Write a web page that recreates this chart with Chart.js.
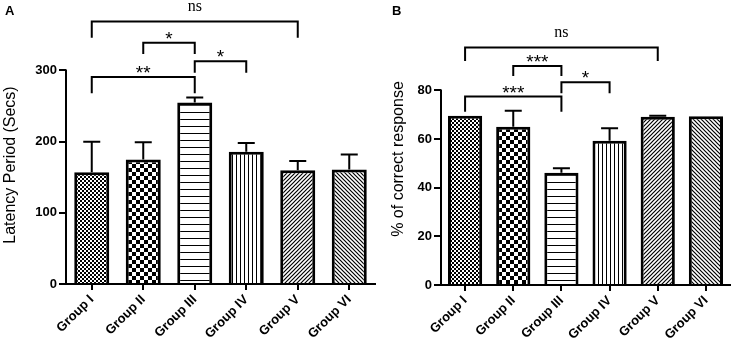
<!DOCTYPE html>
<html>
<head>
<meta charset="utf-8">
<script src="https://cdn.jsdelivr.net/npm/chart.js@4.4.0/dist/chart.umd.min.js"></script>
<style>
  html, body { margin: 0; padding: 0; background: #fff; }
  #wrap { position: relative; width: 737px; height: 349px; overflow: hidden; }
  canvas { position: absolute; top: 0; }
  .panel { position: absolute; top: 3px; font: bold 13px Arial, "Liberation Sans", sans-serif; }
</style>
</head>
<body>
<div id="wrap">
  <canvas id="chartA" width="378" height="349" style="left:0"></canvas>
  <canvas id="chartB" width="359" height="349" style="left:378px"></canvas>
  <div class="panel" style="left:5px">A</div>
  <div class="panel" style="left:392px">B</div>
</div>
<script>
const groups = ['Group I', 'Group II', 'Group III', 'Group IV', 'Group V', 'Group VI'];

// panel A - latency
const latencyMean = [157, 175, 255, 186, 160, 161];
const latencySem = [43, 24, 7, 12, 13, 21];
const latencyTicks = [0, 100, 200, 300];
// [from, to, bracket level, leg end, label]
const latencySig = [
  [0, 4, 369, 346, 'ns'],
  [1, 2, 339, 323, '*'],
  [2, 3, 313, 297, '*'],
  [0, 2, 291, 268, '**']
];

// panel B - % correct response
const correctMean = [69.6, 65.1, 46.2, 59.3, 69.2, 69.4];
const correctSem = [0, 6.6, 1.8, 5.2, 0.4, 0];
const correctTicks = [0, 20, 40, 60, 80];
const correctSig = [
  [0, 4, 97.7, 92.1, 'ns'],
  [1, 2, 90.1, 86.0, '***'],
  [2, 3, 83.4, 78.9, '*'],
  [0, 2, 77.5, 71.3, '***']
];

const FONT = 'Arial, "Liberation Sans", sans-serif';
const tmp = document.createElement('canvas').getContext('2d');

function pattern(kind) {
  const c = document.createElement('canvas');
  const g = c.getContext('2d');
  const w = {fine: 4, check: 8, hlines: 4, vlines: 4, up: 4, down: 4}[kind];
  const h = kind === 'hlines' ? 7 : w;
  c.width = w; c.height = h;
  g.fillStyle = '#fff';
  g.fillRect(0, 0, w, h);
  g.fillStyle = '#000';
  g.strokeStyle = '#000';
  if (kind === 'fine') { g.fillRect(0, 0, 2, 2); g.fillRect(2, 2, 2, 2); }
  if (kind === 'check') { g.fillRect(0, 0, 4, 4); g.fillRect(4, 4, 4, 4); }
  if (kind === 'hlines') g.fillRect(0, 0, w, 1);
  if (kind === 'vlines') g.fillRect(0, 0, 1, h);
  if (kind === 'up' || kind === 'down') {
    g.lineWidth = 1.2;
    g.beginPath();
    if (kind === 'up') {
      g.moveTo(-1, w + 1); g.lineTo(w + 1, -1);
      g.moveTo(-1, 1); g.lineTo(1, -1);
      g.moveTo(w - 1, w + 1); g.lineTo(w + 1, w - 1);
    } else {
      g.moveTo(-1, -1); g.lineTo(w + 1, w + 1);
      g.moveTo(w - 1, -1); g.lineTo(w + 1, 1);
      g.moveTo(-1, w - 1); g.lineTo(1, w + 1);
    }
    g.stroke();
  }
  return tmp.createPattern(c, 'repeat');
}
const fills = ['fine', 'check', 'hlines', 'vlines', 'up', 'down'].map(pattern);

function extras(mean, sem, sig, axisTop, title, titleX, titleY) {
  return {
    id: 'extras',
    afterDatasetsDraw(chart) {
      const ctx = chart.ctx;
      const y = chart.scales.y;
      const bars = chart.getDatasetMeta(0).data;
      ctx.save();
      ctx.strokeStyle = '#000';
      ctx.fillStyle = '#000';
      ctx.lineWidth = 2;

      // error bars (upper only)
      sem.forEach((e, i) => {
        if (!e) return;
        const b = bars[i];
        const yt = y.getPixelForValue(mean[i] + e);
        ctx.beginPath();
        ctx.moveTo(b.x, b.y);
        ctx.lineTo(b.x, yt);
        ctx.moveTo(b.x - 8.5, yt);
        ctx.lineTo(b.x + 8.5, yt);
        ctx.stroke();
      });

      // y axis line up to last tick
      const x0 = y.right;
      ctx.beginPath();
      ctx.moveTo(x0, y.getPixelForValue(0) + 1);
      ctx.lineTo(x0, y.getPixelForValue(axisTop) - 1);
      ctx.stroke();

      // significance brackets
      sig.forEach(([a, b, lvl, leg, label]) => {
        const xa = bars[a].x, xb = bars[b].x;
        const yl = y.getPixelForValue(lvl), yb = y.getPixelForValue(leg);
        ctx.beginPath();
        ctx.moveTo(xa, yb);
        ctx.lineTo(xa, yl);
        ctx.lineTo(xb, yl);
        ctx.lineTo(xb, yb);
        ctx.stroke();
        ctx.textAlign = 'center';
        ctx.textBaseline = 'alphabetic';
        if (label === 'ns') {
          ctx.font = '16px "Times New Roman", "Liberation Serif", serif';
          ctx.fillText(label, (xa + xb) / 2, yl - 10);
        } else {
          ctx.font = '19px ' + FONT;
          ctx.fillText(label, (xa + xb) / 2, yl + 2);
        }
      });

      // y axis title
      ctx.translate(titleX, titleY);
      ctx.rotate(-Math.PI / 2);
      ctx.font = '16px ' + FONT;
      ctx.textAlign = 'center';
      ctx.textBaseline = 'middle';
      ctx.fillText(title, 0, 0);
      ctx.restore();
    }
  };
}

function makeChart(id, mean, ticks, yMax, barPct, yWidth, xHeight, padRight, plugin) {
  return new Chart(document.getElementById(id), {
    type: 'bar',
    data: {
      labels: groups,
      datasets: [{
        data: mean,
        backgroundColor: fills,
        borderColor: '#000',
        borderWidth: 3,
        barPercentage: barPct,
        categoryPercentage: 1
      }]
    },
    options: {
      responsive: false,
      animation: false,
      devicePixelRatio: 1,
      layout: { padding: { top: 10, right: padRight, left: 0, bottom: 0 } },
      plugins: { legend: { display: false }, tooltip: { enabled: false } },
      scales: {
        x: {
          grid: { display: true, drawOnChartArea: false, offset: false, tickLength: 6, color: '#000', lineWidth: 2 },
          border: { display: true, color: '#000', width: 2 },
          ticks: { color: '#000', font: { family: FONT, size: 13, weight: 'bold' }, minRotation: 45, maxRotation: 45, padding: 2 },
          afterFit: s => { s.height = xHeight; }
        },
        y: {
          min: 0,
          max: yMax,
          grid: { display: true, drawOnChartArea: false, tickLength: 7, color: '#000', lineWidth: 2 },
          border: { display: false },
          ticks: { color: '#000', font: { family: FONT, size: 13, weight: 'bold' }, padding: 2 },
          afterBuildTicks: s => { s.ticks = ticks.map(v => ({ value: v })); },
          afterFit: s => { s.width = yWidth; }
        }
      }
    },
    plugins: [plugin]
  });
}

makeChart('chartA', latencyMean, latencyTicks, 385, 0.68, 66, 65, 3,
  extras(latencyMean, latencySem, latencySig, 300, 'Latency Period (Secs)', 11, 165));
makeChart('chartB', correctMean, correctTicks, 113.1, 0.71, 63, 64, 7,
  extras(correctMean, correctSem, correctSig, 80, '% of correct response', 21, 159));
</script>
</body>
</html>
